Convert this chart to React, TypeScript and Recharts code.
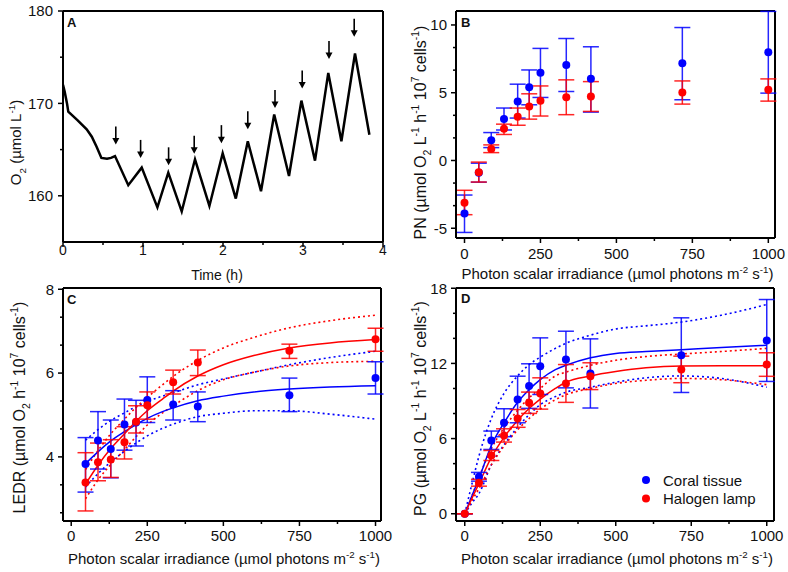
import React from "react";
import {
  ComposedChart,
  ErrorBar,
  Line,
  ReferenceLine,
  Scatter,
  XAxis,
  YAxis,
} from "recharts";

const FONT = "'Liberation Sans', Arial, Helvetica, sans-serif";
const INK = "#000";
const TXT = "#111";
const BLUE = "#0000ff";
const RED = "#ff0000";

// ---- A: O2 trace (time in h, O2 in umol/L) ----
const timeH = [
  0, 0.02, 0.05, 0.066, 0.18, 0.296, 0.36, 0.42, 0.48, 0.55, 0.6, 0.65, 0.816,
  0.984, 1.18, 1.316, 1.484, 1.65, 1.83, 1.996, 2.16, 2.31, 2.475, 2.64, 2.825,
  2.98, 3.15, 3.316, 3.48, 3.65, 3.83,
];
const oxygen = [
  172.0, 171.3, 170.0, 169.1, 168.2, 167.2, 166.4, 165.3, 164.1, 164.0, 164.1,
  164.3, 161.15, 163.05, 158.75, 162.5, 158.3, 163.95, 158.9, 164.6, 159.7,
  165.9, 160.5, 168.8, 162.15, 170.3, 163.8, 173.3, 165.9, 175.4, 166.6,
];
const arrowTime = [0.66, 0.97, 1.32, 1.64, 1.98, 2.31, 2.65, 2.99, 3.325, 3.64];
const arrowTip = [165.55, 164.1, 163.3, 164.55, 165.7, 167.2, 169.5, 171.6, 174.8, 177.2];

// ---- B-D: irradiance steps ----
const irradiance = [0, 47, 88, 130, 175, 213, 250, 335, 416, 717, 1000];

// B: PN
const pnCoral = [-3.91, -0.9, 1.5, 3.06, 4.36, 5.41, 6.48, 7.05, 6.04, 7.17, 7.98];
const pnCoralHi = [-2.55, -0.2, 2.06, 3.87, 5.63, 6.68, 8.27, 9.0, 8.39, 9.81, 11.0];
const pnCoralLo = [-5.31, -1.6, 0.95, 2.25, 3.13, 4.11, 4.65, 5.09, 3.57, 4.48, 4.97];
const pnLamp = [-3.11, -0.86, 0.84, 2.35, 3.23, 3.99, 4.4, 4.67, 4.72, 5.02, 5.21];
const pnLampHi = [-2.2, -0.12, 1.15, 2.68, 3.87, 4.92, 5.5, 5.95, 5.82, 5.87, 6.02];
const pnLampLo = [-4.0, -1.59, 0.58, 1.92, 2.6, 3.05, 3.28, 3.38, 3.62, 4.16, 4.38];

// C: LEDR (no dark point)
const irrLight = irradiance.slice(1);
const ledrCoral = [3.83, 4.39, 4.19, 4.77, 4.82, 5.36, 5.25, 5.2, 5.47, 5.88];
const ledrCoralHi = [4.46, 5.08, 4.88, 5.38, 5.35, 5.91, 5.58, 5.55, 5.88, 6.27];
const ledrCoralLo = [3.16, 3.71, 3.5, 4.16, 4.26, 4.82, 4.88, 4.84, 5.08, 5.5];
const ledrLamp = [3.39, 3.87, 3.94, 4.35, 4.84, 5.23, 5.78, 6.25, 6.53, 6.81];
const ledrLampHi = [4.1, 4.33, 4.41, 4.72, 5.22, 5.55, 6.07, 6.55, 6.69, 7.07];
const ledrLampLo = [2.71, 3.43, 3.51, 3.95, 4.57, 4.9, 5.5, 5.94, 6.35, 6.52];

const fitIrrC = [47, 88, 130, 175, 213, 250, 300, 335, 416, 500, 600, 717, 850, 1000];
const ledrCoralFit = [3.84, 4.12, 4.38, 4.6, 4.77, 4.92, 5.08, 5.17, 5.34, 5.45, 5.55, 5.62, 5.67, 5.7];
const ledrCoralUp = [4.4, 4.65, 4.87, 5.05, 5.2, 5.32, 5.45, 5.53, 5.72, 5.86, 6.02, 6.2, 6.37, 6.52];
const ledrCoralDn = [3.28, 3.6, 3.88, 4.13, 4.33, 4.5, 4.68, 4.78, 4.96, 5.04, 5.1, 5.1, 5.02, 4.9];
const ledrLampFit = [3.35, 3.8, 4.2, 4.55, 4.85, 5.1, 5.38, 5.57, 5.93, 6.2, 6.42, 6.6, 6.72, 6.8];
const ledrLampUp = [3.7, 4.15, 4.55, 4.9, 5.18, 5.42, 5.72, 5.92, 6.3, 6.6, 6.85, 7.08, 7.25, 7.38];
const ledrLampDn = [3.0, 3.45, 3.82, 4.17, 4.48, 4.76, 5.05, 5.22, 5.58, 5.84, 6.02, 6.17, 6.25, 6.28];

// D: PG
const pgCoral = [0, 2.95, 5.85, 7.26, 9.12, 10.19, 11.78, 12.31, 11.2, 12.66, 13.83];
const pgCoralHi = [0, 3.3, 6.6, 8.38, 10.98, 11.97, 14.04, 14.57, 13.96, 15.64, 17.1];
const pgCoralLo = [0, 2.6, 5.13, 6.15, 7.26, 8.41, 9.52, 10.05, 8.44, 9.68, 10.56];
const pgLamp = [0, 2.47, 4.65, 6.25, 7.61, 8.86, 9.6, 10.4, 10.98, 11.52, 11.91];
const pgLampHi = [0, 2.75, 5.05, 6.78, 8.32, 9.71, 10.85, 11.91, 12.05, 12.58, 12.85];
const pgLampLo = [0, 2.2, 4.25, 5.72, 6.9, 8.01, 8.35, 8.89, 9.91, 10.46, 10.97];

const fitIrrD = [0, 25, 47, 88, 130, 175, 213, 250, 300, 335, 416, 500, 600, 717, 850, 1000];
const pgCoralFit = [0, 1.5, 2.8, 5.45, 7.25, 8.9, 9.9, 10.7, 11.5, 11.85, 12.45, 12.8, 12.95, 13.1, 13.28, 13.44];
const pgCoralUp = [0, 2.5, 4.6, 7.6, 9.6, 11.0, 11.9, 12.5, 13.2, 13.6, 14.25, 14.75, 15.0, 15.3, 15.85, 16.7];
const pgCoralDn = [0, 0.9, 1.6, 3.9, 5.5, 6.9, 7.9, 8.7, 9.35, 9.7, 10.1, 10.5, 10.85, 11.0, 10.8, 10.1];
const pgLampFit = [0, 1.3, 2.4, 4.5, 6.1, 7.45, 8.4, 9.15, 10.0, 10.5, 11.0, 11.35, 11.65, 11.8, 11.82, 11.82];
const pgLampUp = [0, 1.5, 2.9, 5.2, 6.85, 8.25, 9.25, 10.0, 11.0, 11.3, 11.85, 12.25, 12.55, 12.75, 12.95, 13.2];
const pgLampDn = [0, 1.1, 2.0, 3.9, 5.4, 6.7, 7.6, 8.35, 9.1, 9.5, 10.0, 10.4, 10.65, 10.8, 10.7, 10.3];

// ---- helpers ----
const pairs = (xs: number[], ys: number[]) => xs.map((x, i) => ({ x, y: ys[i] }));
const withErr = (xs: number[], ys: number[], hi: number[], lo: number[]) =>
  xs.map((x, i) => ({ x, y: ys[i], e: [ys[i] - lo[i], hi[i] - ys[i]] }));

type Part = [string, "n" | "sub" | "sup"];

function Rich({ x, y, parts, size, rotate, anchor = "middle" }: any) {
  let shift = 0;
  return (
    <text
      x={x}
      y={y}
      transform={rotate ? `rotate(-90 ${x} ${y})` : undefined}
      textAnchor={anchor}
      fontSize={size}
      fontFamily={FONT}
      fill={TXT}
    >
      {(parts as Part[]).map(([s, k], i) => {
        const target = k === "sub" ? size * 0.3 : k === "sup" ? -size * 0.42 : 0;
        const dy = target - shift;
        shift = target;
        return (
          <tspan key={i} dy={dy} fontSize={k === "n" ? size : size * 0.65}>
            {s}
          </tspan>
        );
      })}
    </text>
  );
}

const xTick = (major: number[], gap: number, size: number) => (p: any) => {
  const v = p.payload.value;
  const isMajor = major.includes(v);
  return (
    <g>
      <line x1={p.x} x2={p.x} y1={p.y} y2={p.y + (isMajor ? 5 : 3)} stroke={INK} strokeWidth={1.5} />
      {isMajor && (
        <text x={p.x} y={p.y + gap} textAnchor="middle" fontSize={size} fontFamily={FONT} fill={TXT}>
          {v}
        </text>
      )}
    </g>
  );
};

const yTick = (major: number[], gap: number, size: number) => (p: any) => {
  const v = p.payload.value;
  const isMajor = major.includes(v);
  return (
    <g>
      <line x1={p.x} x2={p.x - (isMajor ? 5 : 3)} y1={p.y} y2={p.y} stroke={INK} strokeWidth={1.5} />
      {isMajor && (
        <text x={p.x - gap} y={p.y + size * 0.36} textAnchor="end" fontSize={size} fontFamily={FONT} fill={TXT}>
          {v}
        </text>
      )}
    </g>
  );
};

const dot = (color: string) => (p: any) => <circle cx={p.cx} cy={p.cy} r={4} fill={color} />;

const arrow = (p: any) => (
  <g>
    <line x1={p.cx} x2={p.cx} y1={p.cy - 18} y2={p.cy - 5} stroke={INK} strokeWidth={1.6} />
    <path d={`M${p.cx - 3.5},${p.cy - 6.5} L${p.cx + 3.5},${p.cy - 6.5} L${p.cx},${p.cy} Z`} fill={INK} />
  </g>
);

const axisLine = { stroke: INK, strokeWidth: 2 };

const photonTitle: Part[] = [
  ["Photon scalar irradiance (\u00b5mol photons m", "n"],
  ["-2", "sup"],
  [" s", "n"],
  ["-1", "sup"],
  [")", "n"],
];

const irrTicks = [0, 125, 250, 375, 500, 625, 750, 875, 1000];
const irrMajor = [0, 250, 500, 750, 1000];

function PanelA() {
  const trace = pairs(timeH, oxygen);
  const arrows = pairs(arrowTime, arrowTip);
  return (
    <ComposedChart width={394} height={290} margin={{ top: 11, right: 11, left: 0, bottom: 8 }}>
      <XAxis
        dataKey="x"
        type="number"
        domain={[0, 4]}
        allowDataOverflow
        ticks={[0, 0.5, 1, 1.5, 2, 2.5, 3, 3.5, 4]}
        interval={0}
        height={40}
        tickSize={0}
        tickMargin={0}
        tickLine={false}
        axisLine={axisLine}
        tick={xTick([0, 1, 2, 3, 4], 13, 14)}
        label={{
          content: (p: any) => (
            <Rich x={p.viewBox.x + p.viewBox.width / 2 - 6} y={p.viewBox.y + 38} size={14} parts={[["Time (h)", "n"]]} />
          ),
        }}
      />
      <YAxis
        dataKey="y"
        type="number"
        domain={[155, 180]}
        allowDataOverflow
        ticks={[160, 165, 170, 175, 180]}
        interval={0}
        width={63}
        tickSize={0}
        tickMargin={0}
        tickLine={false}
        axisLine={axisLine}
        tick={yTick([160, 170, 180], 10, 15)}
        label={{
          content: (p: any) => (
            <Rich
              rotate
              x={21}
              y={p.viewBox.y + p.viewBox.height / 2 + 16}
              size={15}
              parts={[["O", "n"], ["2", "sub"], [" (\u00b5mol L", "n"], ["-1", "sup"], [")", "n"]]}
            />
          ),
        }}
      />
      <ReferenceLine y={180} stroke={INK} strokeWidth={2} />
      <ReferenceLine x={4} stroke={INK} strokeWidth={2} />
      <Line data={trace} dataKey="y" type="linear" stroke={INK} strokeWidth={2.5} dot={false} isAnimationActive={false} />
      <Scatter data={arrows} dataKey="y" shape={arrow} isAnimationActive={false} />
    </ComposedChart>
  );
}

function xIrr(domain: number[], gap: number, titleY: number) {
  return (
    <XAxis
      dataKey="x"
      type="number"
      domain={domain}
      allowDataOverflow
      ticks={irrTicks}
      interval={0}
      height={45}
      tickSize={0}
      tickMargin={0}
      tickLine={false}
      axisLine={axisLine}
      tick={xTick(irrMajor, gap, 15)}
      label={{
        content: (p: any) => (
          <Rich x={p.viewBox.x + p.viewBox.width / 2 + 2} y={p.viewBox.y + titleY} size={15} parts={photonTitle} />
        ),
      }}
    />
  );
}

function yRate(domain: number[], ticks: number[], major: number[], title: Part[], bx: number, dy: number) {
  return (
    <YAxis
      dataKey="y"
      type="number"
      domain={domain}
      allowDataOverflow
      ticks={ticks}
      interval={0}
      width={62}
      tickSize={0}
      tickMargin={0}
      tickLine={false}
      axisLine={axisLine}
      tick={yTick(major, 9, 15)}
      label={{
        content: (p: any) => (
          <Rich rotate x={bx} y={p.viewBox.y + p.viewBox.height / 2 + dy} size={16} parts={title} />
        ),
      }}
    />
  );
}

function points(data: any[], color: string) {
  return (
    <Scatter data={data} dataKey="y" shape={dot(color)} isAnimationActive={false}>
      <ErrorBar dataKey="e" direction="y" width={8} stroke={color} strokeWidth={1.5} strokeOpacity={0.85} />
    </Scatter>
  );
}

function curve(data: any[], color: string, dotted = false) {
  return (
    <Line
      data={data}
      dataKey="y"
      type="monotone"
      stroke={color}
      strokeWidth={dotted ? 1.6 : 1.5}
      strokeDasharray={dotted ? "2 3" : undefined}
      dot={false}
      isAnimationActive={false}
    />
  );
}

const rateTitle = (head: string, withL: boolean): Part[] => [
  [head + " (\u00b5mol O", "n"],
  ["2", "sub"],
  ...(withL ? ([[" L", "n"], ["-1", "sup"]] as Part[]) : []),
  [" h", "n"],
  ["-1", "sup"],
  [" 10", "n"],
  ["7", "sup"],
  [" cells", "n"],
  ["-1", "sup"],
  [")", "n"],
];

function PanelB() {
  const xDom = [-28, 1022];
  const yDom = [-5.72, 11.03];
  return (
    <ComposedChart width={394} height={290} margin={{ top: 11, right: 13, left: 0, bottom: 7 }}>
      {xIrr(xDom, 21, 41)}
      {yRate(
        yDom,
        [-5, -10 / 3, -5 / 3, 0, 5 / 3, 10 / 3, 5, 20 / 3, 25 / 3, 10],
        [-5, 0, 5, 10],
        rateTitle("PN", true),
        32,
        8
      )}
      <ReferenceLine y={yDom[1]} stroke={INK} strokeWidth={2} />
      <ReferenceLine x={xDom[1]} stroke={INK} strokeWidth={2} />
      {points(withErr(irradiance, pnCoral, pnCoralHi, pnCoralLo), BLUE)}
      {points(withErr(irradiance, pnLamp, pnLampHi, pnLampLo), RED)}
    </ComposedChart>
  );
}

function PanelC() {
  const xDom = [-27, 1018];
  const yDom = [2.47, 8.03];
  return (
    <ComposedChart width={394} height={286} margin={{ top: 2, right: 13, left: 1, bottom: 6 }}>
      {xIrr(xDom, 20, 43)}
      {yRate(
        yDom,
        [8 / 3, 10 / 3, 4, 14 / 3, 16 / 3, 6, 20 / 3, 22 / 3, 8],
        [4, 6, 8],
        rateTitle("LEDR", false),
        25,
        3
      )}
      <ReferenceLine y={yDom[1]} stroke={INK} strokeWidth={2} />
      <ReferenceLine x={xDom[1]} stroke={INK} strokeWidth={2} />
      {curve(pairs(fitIrrC, ledrCoralUp), BLUE, true)}
      {curve(pairs(fitIrrC, ledrCoralDn), BLUE, true)}
      {curve(pairs(fitIrrC, ledrLampUp), RED, true)}
      {curve(pairs(fitIrrC, ledrLampDn), RED, true)}
      {curve(pairs(fitIrrC, ledrCoralFit), BLUE)}
      {curve(pairs(fitIrrC, ledrLampFit), RED)}
      {points(withErr(irrLight, ledrCoral, ledrCoralHi, ledrCoralLo), BLUE)}
      {points(withErr(irrLight, ledrLamp, ledrLampHi, ledrLampLo), RED)}
    </ComposedChart>
  );
}

function PanelD() {
  const xDom = [-29, 1024];
  const yDom = [-0.58, 18.02];
  return (
    <ComposedChart width={394} height={286} margin={{ top: 2, right: 14, left: 0, bottom: 6 }}>
      {xIrr(xDom, 20, 43)}
      {yRate(
        yDom,
        [0, 2, 4, 6, 8, 10, 12, 14, 16, 18],
        [0, 6, 12, 18],
        rateTitle("PG", true),
        32,
        4
      )}
      <ReferenceLine y={yDom[1]} stroke={INK} strokeWidth={2} />
      <ReferenceLine x={xDom[1]} stroke={INK} strokeWidth={2} />
      {curve(pairs(fitIrrD, pgCoralUp), BLUE, true)}
      {curve(pairs(fitIrrD, pgCoralDn), BLUE, true)}
      {curve(pairs(fitIrrD, pgLampUp), RED, true)}
      {curve(pairs(fitIrrD, pgLampDn), RED, true)}
      {curve(pairs(fitIrrD, pgCoralFit), BLUE)}
      {curve(pairs(fitIrrD, pgLampFit), RED)}
      {points(withErr(irradiance, pgCoral, pgCoralHi, pgCoralLo), BLUE)}
      {points(withErr(irradiance, pgLamp, pgLampHi, pgLampLo), RED)}
    </ComposedChart>
  );
}

const legendItems = [
  { name: "Coral tissue", color: BLUE },
  { name: "Halogen lamp", color: RED },
];

export default function App() {
  return (
    <div style={{ position: "absolute", left: 0, top: 0, width: 788, height: 572, background: "#fff" }}>
      <style>{"svg.recharts-surface{overflow:visible}"}</style>
      <div style={{ position: "absolute", left: 0, top: 0 }}>
        <PanelA />
      </div>
      <div style={{ position: "absolute", left: 394, top: 0 }}>
        <PanelB />
      </div>
      <div style={{ position: "absolute", left: 0, top: 286 }}>
        <PanelC />
      </div>
      <div style={{ position: "absolute", left: 394, top: 286 }}>
        <PanelD />
      </div>
      <svg
        width={788}
        height={572}
        style={{ position: "absolute", left: 0, top: 0, pointerEvents: "none" }}
      >
        {[
          ["A", 67, 27],
          ["B", 461, 27],
          ["C", 67, 304],
          ["D", 461, 303],
        ].map(([t, x, y]) => (
          <text key={t as string} x={x as number} y={y as number} fontSize={13} fontWeight="bold" fontFamily={FONT} fill={TXT}>
            {t}
          </text>
        ))}
        {legendItems.map((it, i) => (
          <g key={it.name}>
            <circle cx={646} cy={480 + i * 18.5} r={4} fill={it.color} />
            <text x={663} y={485.5 + i * 18.5} fontSize={15} fontFamily={FONT} fill={TXT}>
              {it.name}
            </text>
          </g>
        ))}
      </svg>
    </div>
  );
}
